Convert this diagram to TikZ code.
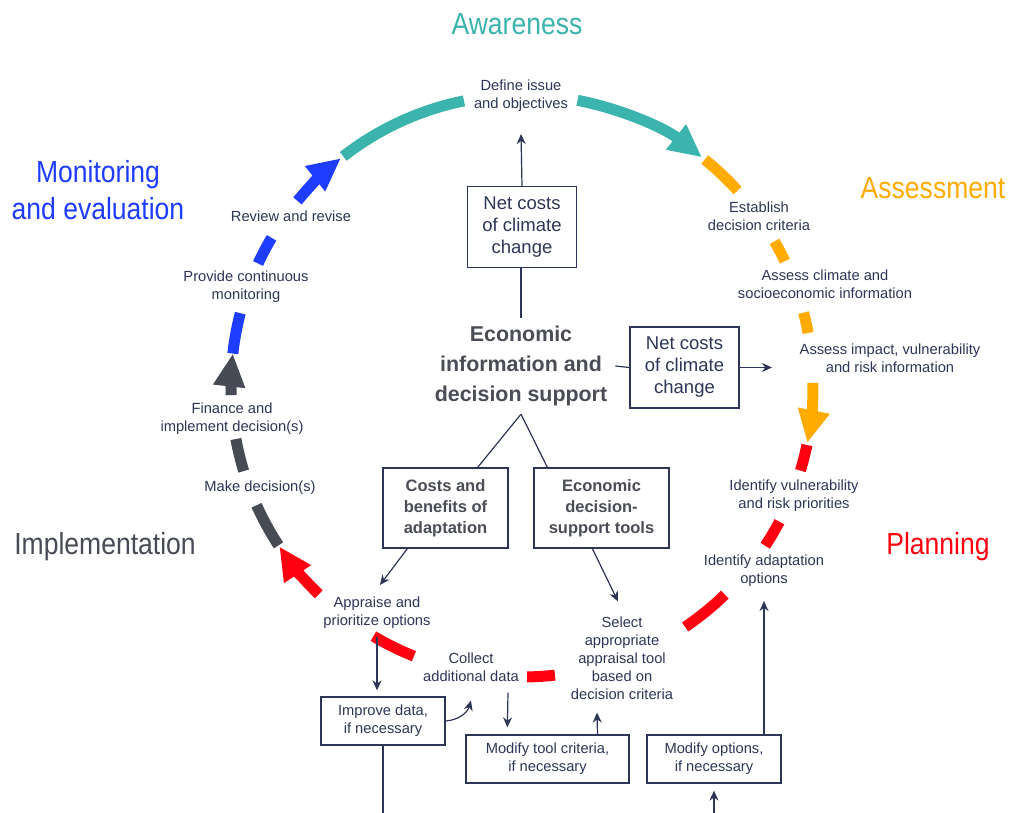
\documentclass[tikz,border=0pt]{standalone}
\usepackage{fontspec}
\setmainfont{Liberation Sans}
\newfontfamily\phasefont[FakeStretch=0.87]{Liberation Sans}
\usepackage{xcolor}
\usepackage{tikz}
\usetikzlibrary{arrows.meta,
positioning,
calc}

\definecolor{awarecol}{HTML}{3AB4AC}
\definecolor{assesscol}{HTML}{FFAB00}
\definecolor{plancol}{HTML}{FF0010}
\definecolor{implcol}{HTML}{474B55}
\definecolor{monicol}{HTML}{1F3DFF}
\definecolor{navy}{HTML}{2D3656}
\definecolor{headgray}{HTML}{4A4D55}

\newcommand{\ringrad}{291}
% one coloured piece of the ring, angles as seen on the page
\newcommand{\cycarc}[3][]{%
\draw[ring,#1] ($(C)+(-#2:\ringrad)$) arc[start angle=-#2, end angle=-#3, radius=\ringrad];}

\begin{document}
\begin{tikzpicture}[
x=1pt, y=-1pt,
>={Stealth[length=10pt,width=9pt]},
ring/.style={line width=11pt},
bighead/.style={-{Triangle[length=33pt,width=30pt]}},
act/.style={
text=navy,
align=center,
inner sep=0pt,
font=\fontsize{14.7}{18}\selectfont
},
phase/.style={
align=center,
inner sep=0pt,
font=\phasefont\fontsize{30.5}{37}\selectfont
},
box/.style={
draw=navy,
line width=1.3pt,
text=navy,
align=center,
inner sep=0pt
},
netbox/.style={
box,
minimum width=109pt,
minimum height=81pt,
font=\fontsize{18.5}{22}\selectfont
},
toolbox/.style={
box,
text=headgray,
minimum height=80pt,
font=\fontsize{16.5}{21}\selectfont\bfseries
},
smallbox/.style={
box,
minimum height=48pt,
font=\fontsize{14.7}{18}\selectfont
},
link/.style={draw=navy, line width=1.2pt}
]

\fill[white] (0,0) rectangle (1010,813);
\useasboundingbox (0,0) rectangle (1010,813);

\coordinate (C) at (522,386);

% Ring
\cycarc[awarecol]{127.9}{101.5}
\cycarc[awarecol,bighead]{79}{51.8}

\cycarc[assesscol]{51.1}{42.2}
\cycarc[assesscol]{29.8}{25.4}
\cycarc[assesscol]{14.6}{10.5}
\cycarc[assesscol,bighead]{360.6}{348.7}

\cycarc[plancol]{348.3}{343.1}
\cycarc[plancol]{332.2}{326.7}
\cycarc[plancol]{314.2}{304.1}
\cycarc[plancol]{276.5}{271}
\cycarc[plancol]{248.2}{239.3}
\cycarc[plancol,bighead]{225.7}{213.5}

\cycarc[implcol]{213.2}{204.2}
\cycarc[implcol]{197}{190.5}
\cycarc[implcol,bighead]{181.8}{173.6}

\cycarc[monicol]{173.6}{165.5}
\cycarc[monicol]{155.1}{149.4}
\cycarc[monicol,bighead]{140.5}{128.5}

% Phases
\node[phase, text=awarecol] (aware) at (517,24) {Awareness};
\node[phase, text=assesscol] (assess) at (933,188) {Assessment};
\node[phase, text=plancol] (plan) at (938,547) {Planning};
\node[phase, text=implcol] (impl) at (105,547) {Implementation};
\node[phase, text=monicol] (moni) at (98,190) {Monitoring\\and evaluation};

% Steps on the ring
\node[act] (define) at (521,96) {Define issue\\and objectives};
\node[act] (establish) at (759,216) {Establish\\decision criteria};
\node[act] (assessclim) at (825,284) {Assess climate and\\socioeconomic information};
\node[act] (assessimp) at (890,358) {Assess impact, vulnerability\\and risk information};
\node[act] (identvul) at (794,496) {Identify vulnerability\\and risk priorities};
\node[act] (identopt) at (764,571) {Identify adaptation\\options};
\node[act] (select) at (622,658) {Select\\appropriate\\appraisal tool\\based on\\decision criteria};
\node[act] (collect) at (471,667) {Collect\\additional data};
\node[act] (appraise) at (377,613) {Appraise and\\prioritize options};
\node[act] (make) at (260,488) {Make decision(s)};
\node[act] (finance) at (232,419) {Finance and\\implement decision(s)};
\node[act] (provide) at (246,287) {Provide continuous\\monitoring};
\node[act] (review) at (291,216) {Review and revise};

% Economic support
\node[text=headgray, align=center, inner sep=8pt,
font=\fontsize{21.4}{30}\selectfont\bfseries] (econ) at (521,366)
{Economic\\information and\\decision support};

\node[netbox] (nettop) at (522,227) {Net costs\\of climate\\change};
\node[netbox] (netright) at (684.5,367.5) {Net costs\\of climate\\change};

\node[toolbox, minimum width=125pt] (costs) at (445.5,508)
{Costs and\\benefits of\\adaptation};
\node[toolbox, minimum width=135pt] (tools) at (601.5,508)
{Economic\\decision-\\support tools};

\node[smallbox, minimum width=124pt] (improve) at (383,721)
{Improve data,\\if necessary};
\node[smallbox, minimum width=163pt] (modtool) at (547.5,759)
{Modify tool criteria,\\if necessary};
\node[smallbox, minimum width=134pt] (modopt) at (714,759)
{Modify options,\\if necessary};

\coordinate (impin) at (772,367.5);
\coordinate (outleft) at (383,813);
\coordinate (inright) at (714,813);

% Connections
\draw[link] (econ.north) -- (econ.north |- nettop.south);
\draw[link,->] (nettop.north) -- ($(define.south)+(0,22)$);
\draw[link] (econ.east) -- (netright.west);
\draw[link,->] (netright.east) -- (impin);

\draw[link] (econ.south) -- ([xshift=-31pt]costs.north east);
\draw[link] (econ.south) -- ([xshift=14pt]tools.north west);

\draw[link,->] ([xshift=25pt]costs.south west) -- ($(appraise.north)+(3,-12)$);
\draw[link,->] ([xshift=59pt]tools.south west) -- ($(select.north)+(-4,-15)$);

\draw[link,->] ($(appraise.south)+(0,8)$) -- ($(appraise.south |- improve.north)+(0,-6)$);
\draw[link,->] (improve.east) to[bend right=35] ($(collect.south)+(0,19)$);
\draw[link,->] ($(collect.south)+(37,11)$) -- ($(modtool.north west)+(42,-7)$);
\draw[link,->] ([xshift=50pt]modtool.north) -- ($(select.south)+(-25,13)$);
\draw[link,->] ([xshift=50pt]modopt.north) -- ($(identopt.south)+(0,14)$);
\draw[link,->] (inright) -- ($(modopt.south)+(0,7)$);
\draw[link] (improve.south) -- (outleft);

\end{tikzpicture}
\end{document}
